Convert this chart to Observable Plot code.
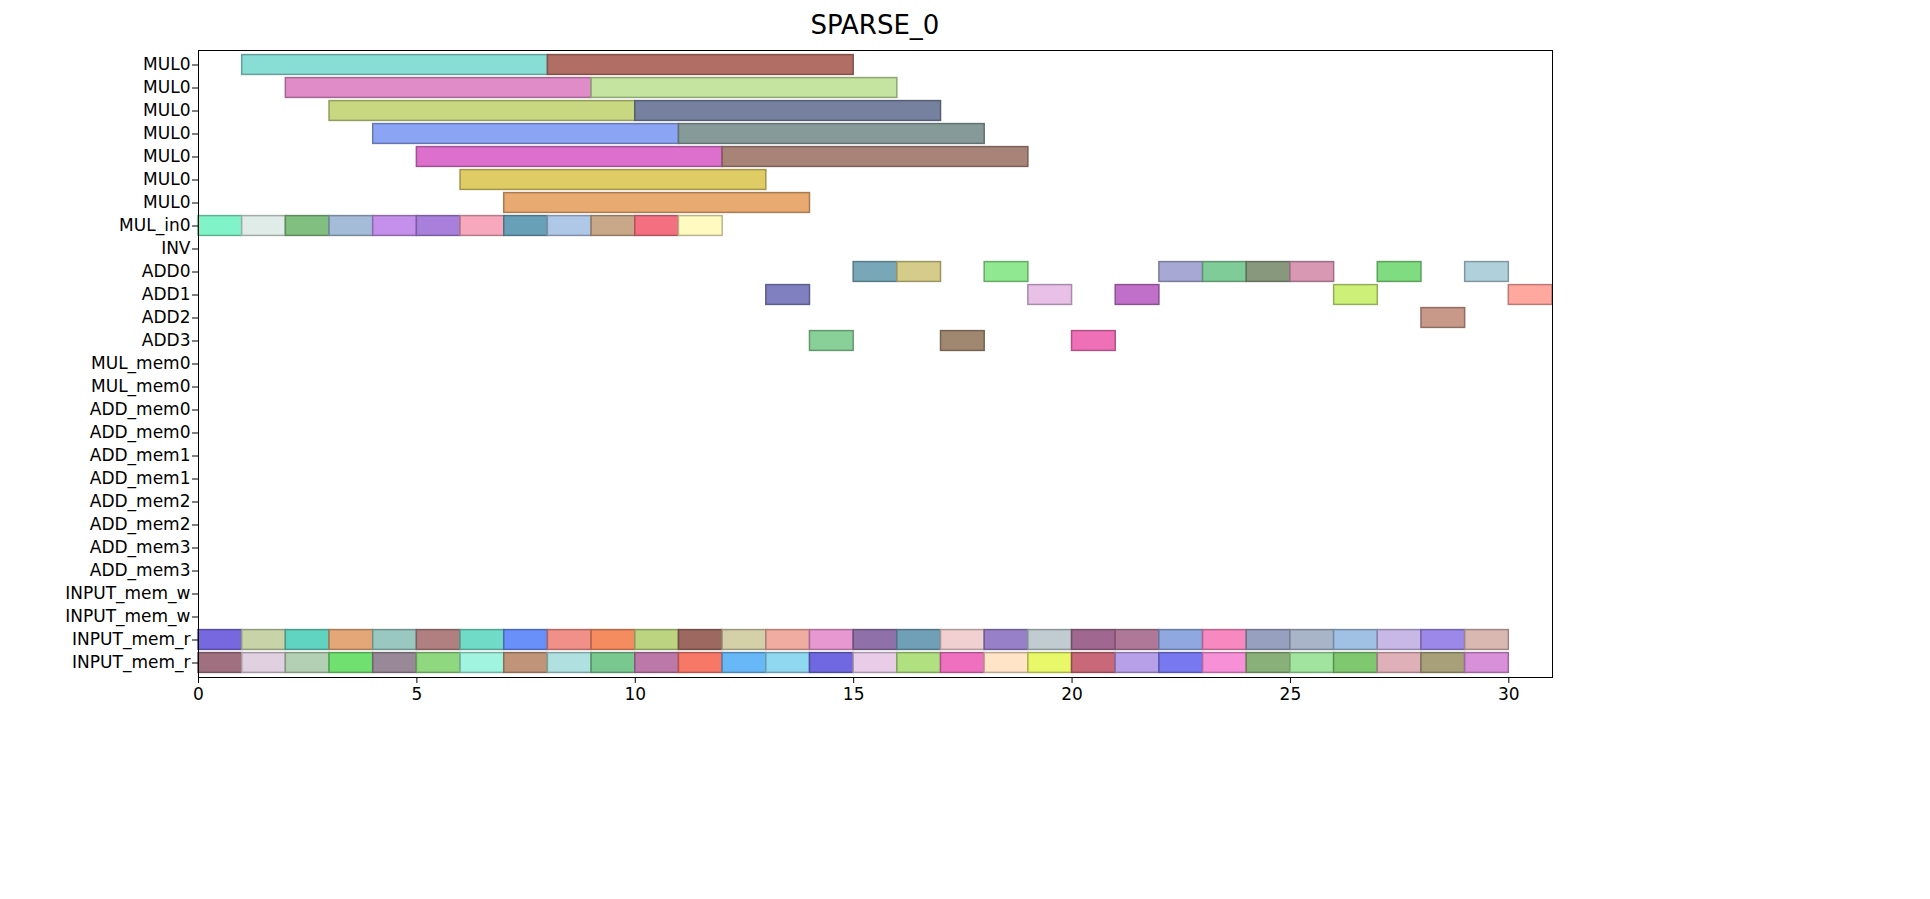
<!DOCTYPE html>
<html><head><meta charset="utf-8">
<script src="https://cdn.jsdelivr.net/npm/d3@7"></script>
<script src="https://cdn.jsdelivr.net/npm/@observablehq/plot@0.6"></script>
<style>body{margin:0;background:#fff;font-family:"DejaVu Sans";}#t{position:absolute;left:198px;width:1354px;top:10px;text-align:center;font-size:26px;}</style>
</head><body><div id="t">SPARSE_0</div><div id="c"></div>
<script>
const rowLabels=["MUL0","MUL0","MUL0","MUL0","MUL0","MUL0","MUL0","MUL_in0","INV","ADD0","ADD1","ADD2","ADD3","MUL_mem0","MUL_mem0","ADD_mem0","ADD_mem0","ADD_mem1","ADD_mem1","ADD_mem2","ADD_mem2","ADD_mem3","ADD_mem3","INPUT_mem_w","INPUT_mem_w","INPUT_mem_r","INPUT_mem_r"];
// [row, start, end, color]
const mulTasks=[[0,1,8,"#88ddd5"],[0,8,15,"#b06e64"],[1,2,9,"#e08cc8"],[1,9,16,"#c4e4a0"],[2,3,10,"#c8d880"],[2,10,17,"#75819e"],[3,4,11,"#8ca4f4"],[3,11,18,"#869a9a"],[4,5,12,"#dc70cc"],[4,12,19,"#a88478"],[5,6,13,"#e0cc64"],[6,7,14,"#e8aa70"]];
const mulInColors=["#80f4c8","#e0ece8","#80bf80","#a4bcd8","#c490ec","#a880dc","#f8a8bc","#68a0b8","#b0c8e8","#c8a888","#f47080","#fffac0"];
const addTasks=[[9,15,"#78a8b8"],[9,16,"#d4cc88"],[9,18,"#90e890"],[9,22,"#a8a8d4"],[9,23,"#80cc98"],[9,24,"#88987c"],[9,25,"#d898b4"],[9,27,"#80dc80"],[9,29,"#b0d0dc"],
[10,13,"#8080c0"],[10,19,"#e8c0e8"],[10,21,"#c070c8"],[10,26,"#ccf078"],[10,30,"#ffa8a0"],[11,28,"#c89888"],[12,14,"#88d098"],[12,17,"#a08870"],[12,20,"#f070b8"]];
const memR1=["#7868e0","#c8d4a8","#60d4c0","#e4a878","#98c8c0","#b08080","#70dcc8","#6890f8","#f09088","#f48c60","#bcd480","#9c6860","#d4d0a8","#f0aca0","#e898d0","#9070a8","#70a0b8","#f0d0d0","#9880c8","#c0ccd0","#a06890","#b07898","#90a8e0","#f888c0","#98a0c0","#a8b4c8","#a0c0e4","#c8b8e8","#9c88e8","#d8b8b0"];
const memR2=["#a07080","#e0d0e0","#b4d0b4","#70e070","#988898","#90d880","#a0f4e0","#c09478","#b0e0e0","#78c890","#bc78a8","#f87868","#68b8f8","#90d8f0","#7068e0","#e8cce8","#b0e080","#f070c0","#ffe4c8","#e8f868","#c86878","#b8a0e8","#7878f0","#f890d8","#88b078","#a0e4a0","#80c870","#e0b0b8","#a8a078","#d890d8"];
const data=[];
mulTasks.forEach(([r,s,e,c])=>data.push({r,s,e,c}));
mulInColors.forEach((c,i)=>data.push({r:7,s:i,e:i+1,c}));
addTasks.forEach(([r,s,c])=>data.push({r,s,e:s+1,c}));
memR1.forEach((c,i)=>data.push({r:25,s:i,e:i+1,c}));
memR2.forEach((c,i)=>data.push({r:26,s:i,e:i+1,c}));
data.forEach(d=>d.k=d3.color(d.c).darker(0.9).formatHex());
const chart=Plot.plot({width:1930,height:899,marginLeft:198,marginRight:378,marginTop:50,marginBottom:222,
style:{fontFamily:"DejaVu Sans",fontSize:"17px",color:"#000"},
x:{domain:[0,31],ticks:[0,5,10,15,20,25,30],tickSize:6,label:null},
y:{domain:d3.range(27),padding:0,tickFormat:i=>rowLabels[i],tickSize:6,label:null},
marks:[
Plot.barX(data,{x1:"s",x2:"e",y:"r",fill:"c",stroke:"k",strokeWidth:1.5,insetTop:1.6,insetBottom:1.6}),
Plot.frame({stroke:"#000"}),
Plot.axisX({ticks:[0,5,10,15,20,25,30],tickSize:6,tickPadding:4,label:null,fontSize:17}),
Plot.axisY({tickSize:6,tickPadding:2,tickFormat:i=>rowLabels[i],label:null,fontSize:17})
]});
document.getElementById("c").appendChild(chart);
</script></body></html>
